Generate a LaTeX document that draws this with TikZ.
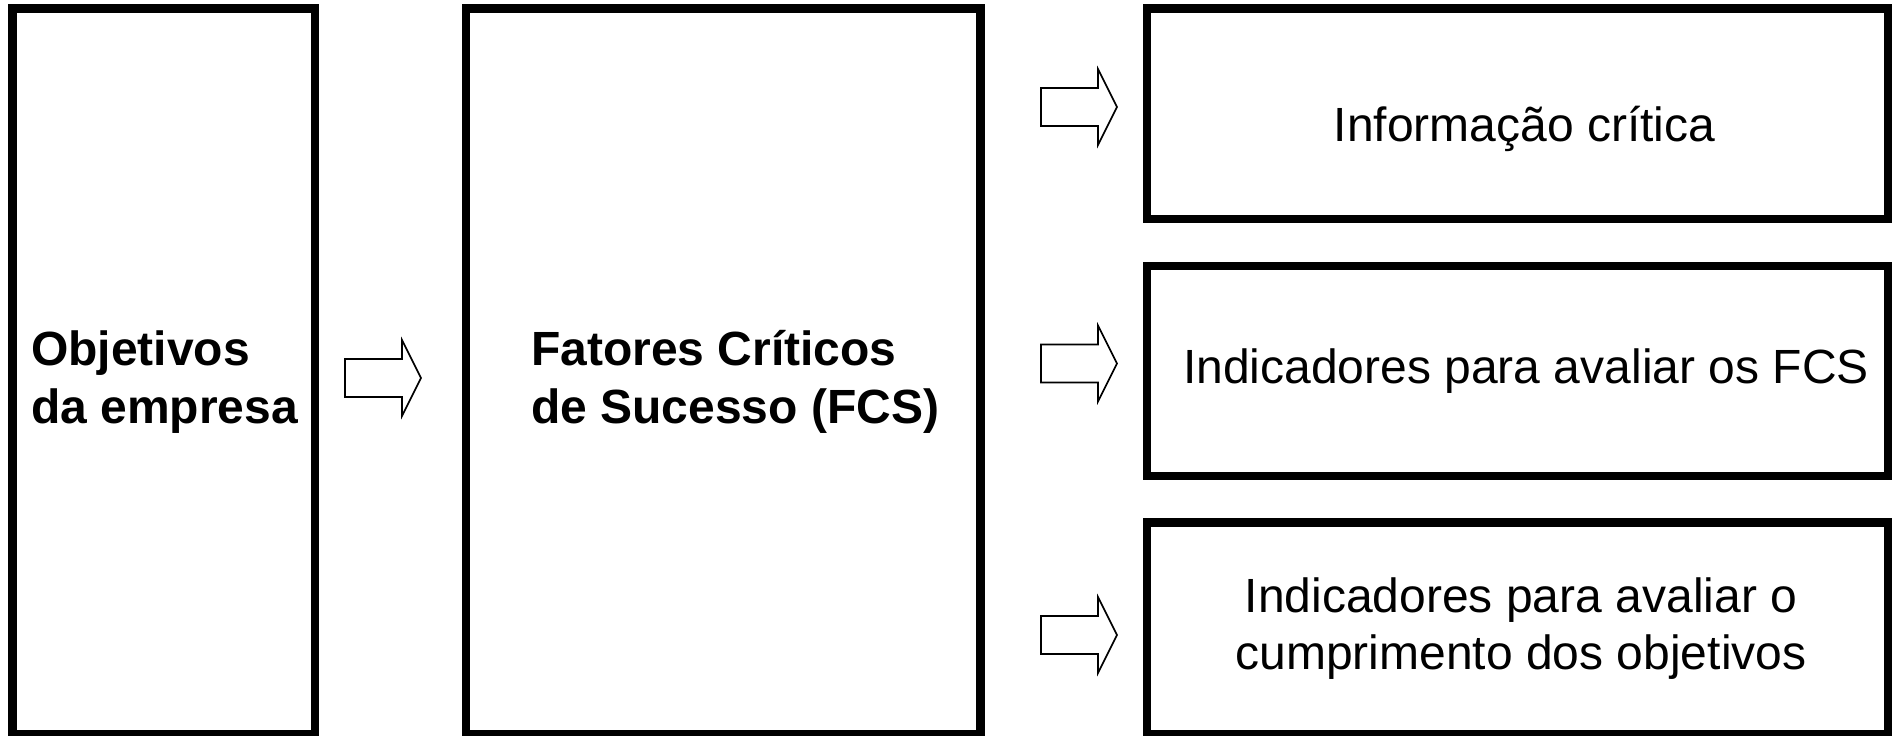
\documentclass[tikz,border=0pt]{standalone}
\usepackage{fontspec}
\setmainfont{Liberation Sans}
\begin{document}
\begin{tikzpicture}[x=1pt,y=-1pt,
  box/.style={draw=black, line width=8.4pt, inner sep=0pt},
  blockarrow/.style={draw=black, line width=1.6pt, line join=miter, fill=white},
  lbl/.style={inner sep=0pt, font=\fontsize{48}{57}\selectfont},
  lblbold/.style={inner sep=0pt, font=\fontsize{48}{58}\selectfont\bfseries}
]
\useasboundingbox (0,0) rectangle (1898,736);

% boxes
\node[box, minimum width=302.5pt, minimum height=725.5pt] (b1) at (163.75,371.25) {};
\node[box, minimum width=514.3pt, minimum height=725.5pt] (b2) at (723.35,371.25) {};
\node[box, minimum width=740.8pt, minimum height=210.5pt] (b3) at (1517.6,113.75) {};
\node[box, minimum width=740.8pt, minimum height=210pt] (b4) at (1517.6,371) {};
\node[box, minimum width=740.8pt, minimum height=211.5pt] (b5) at (1517.6,628.25) {};

% texts
\node[lblbold, anchor=base west] (t1) at (31,365) {\vtop{\hbox{Objetivos}\hbox{da empresa}}};
\node[lblbold, anchor=base west] (t2) at (531,365) {\vtop{\hbox{Fatores Críticos}\hbox{de Sucesso (FCS)}}};
\node[lbl, anchor=base] (t3) at (1524.5,141) {Informação crítica};
\node[lbl, anchor=base] (t4) at (1526,383) {Indicadores para avaliar os FCS};
\node[lbl, anchor=base] (t5) at (1521,612) {\vtop{\hbox to 0pt{\hss Indicadores para avaliar o\hss}\hbox to 0pt{\hss cumprimento dos objetivos\hss}}};

% block arrows
\coordinate (a1) at (345,378);
\coordinate (a2) at (1041,107);
\coordinate (a3) at (1041,363.5);
\coordinate (a4) at (1041,635);
\foreach \a in {a1,a2,a3,a4}{
  \draw[blockarrow] (\a) ++(0,-19) -- ++(57,0) -- ++(0,-19) -- ++(19,38) -- ++(-19,38) -- ++(0,-19) -- ++(-57,0) -- cycle;
}
\end{tikzpicture}
\end{document}
